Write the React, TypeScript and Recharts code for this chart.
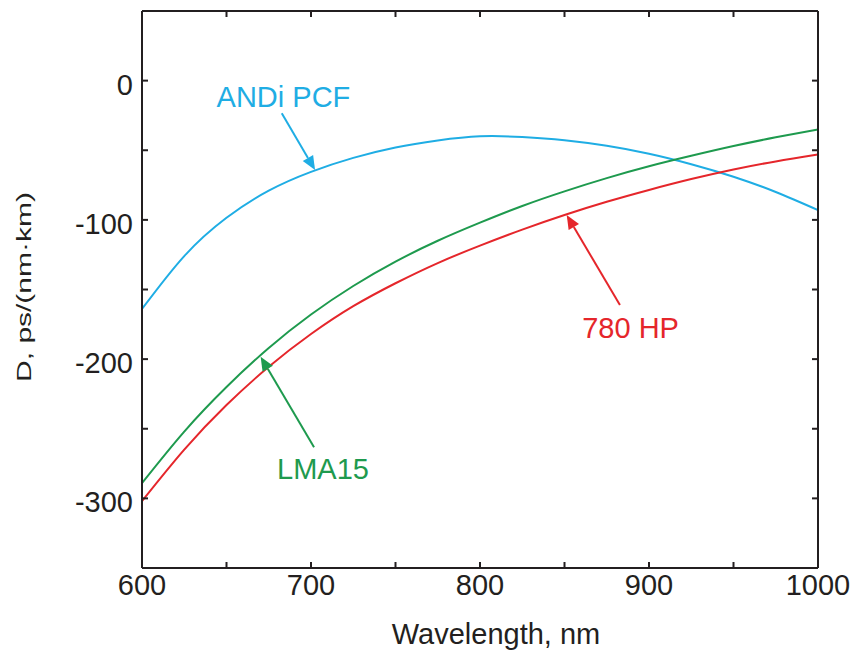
import { LineChart, Line, XAxis, YAxis, ReferenceLine, ReferenceDot } from "recharts";

// wavelength, nm
const wavelengths = [600, 625, 650, 675, 700, 725, 750, 775, 800, 825, 850, 875, 900, 925, 950, 975, 1000];

// dispersion D, ps/(nm·km)
const andiPcf = [-164, -126, -98.5, -79, -65.5, -55.5, -48, -43, -40, -40.5, -42.8, -46.8, -52.5, -60, -69, -80, -93];
const lma15 = [-289, -252, -220, -192, -168, -147.5, -130, -115, -102, -90, -79.5, -70, -61.5, -54, -47, -40.7, -35];
const hp780 = [-302, -265, -233, -205.5, -182, -162, -145.5, -131, -118.5, -107, -96.5, -87, -78.5, -70.7, -63.8, -58, -53];

const xTicks = [600, 650, 700, 750, 800, 850, 900, 950, 1000];
const yTicks = [-300, -250, -200, -150, -100, -50, 0];

const BLUE = "#1fade4";
const GREEN = "#1e9a4e";
const RED = "#e5262b";
const INK = "#231f20";
const FONT = "'Liberation Sans', Arial, Helvetica, sans-serif";

const data = wavelengths.map((w, i) => ({
  w,
  andi: andiPcf[i],
  lma: lma15[i],
  hp: hp780[i],
}));

// annotation text + arrow, in data units
const notes = [
  { text: "ANDi PCF", color: BLUE, at: [683.7, -18.6], from: [682.7, -23.5], to: [702.4, -64.2] },
  { text: "780 HP", color: RED, at: [889.1, -184.8], from: [882.8, -161.1], to: [851.3, -96.5] },
  { text: "LMA15", color: GREEN, at: [707.1, -286.1], from: [701.8, -263.3], to: [670.2, -198.3] },
];

const makeArrow = (color: string) => (props: any) => {
  const { x1, y1, x2, y2 } = props;
  const dx = x2 - x1;
  const dy = y2 - y1;
  const len = Math.hypot(dx, dy) || 1;
  const ux = dx / len;
  const uy = dy / len;
  const head = 14;
  const half = 6;
  const bx = x2 - ux * head;
  const by = y2 - uy * head;
  return (
    <g>
      <line x1={x1} y1={y1} x2={bx} y2={by} stroke={color} strokeWidth={2} />
      <polygon
        points={`${x2},${y2} ${bx - uy * half},${by + ux * half} ${bx + uy * half},${by - ux * half}`}
        fill={color}
      />
    </g>
  );
};

const makeNote = (text: string, color: string) => (props: any) => (
  <text x={props.cx} y={props.cy} textAnchor="middle" fill={color} fontSize={29} fontFamily={FONT}>
    {text}
  </text>
);

const XTick = (props: any) => {
  const { x, y, payload } = props;
  if (payload.value % 100 !== 0) return <g />;
  return (
    <text x={x} y={y + 19} textAnchor="middle" fill={INK} fontSize={29} fontFamily={FONT}>
      {payload.value}
    </text>
  );
};

const YTick = (props: any) => {
  const { x, y, payload } = props;
  if (payload.value % 100 !== 0) return <g />;
  return (
    <text x={x} y={y + 14} textAnchor="end" fill={INK} fontSize={29} fontFamily={FONT}>
      {payload.value}
    </text>
  );
};

const NoTick = () => <g />;

const XLabel = (props: any) => {
  const vb = props.viewBox || { x: 134, y: 560, width: 676 };
  return (
    <text x={vb.x + vb.width / 2 + 16} y={vb.y + 76} textAnchor="middle" fill={INK} fontSize={29} fontFamily={FONT}>
      Wavelength, nm
    </text>
  );
};

const YLabel = (props: any) => {
  const vb = props.viewBox || { x: 0, y: 3, height: 557 };
  const cx = vb.x + 23;
  const cy = vb.y + vb.height / 2 - 2.5;
  return (
    <text
      transform={`translate(${cx},${cy}) scale(0.7,1) rotate(-90)`}
      textAnchor="middle"
      fill={INK}
      fontSize={30}
      fontFamily={FONT}
    >
      D, ps/(nm·km)
    </text>
  );
};

const axisLine = { stroke: INK, strokeWidth: 2 };
const tickLine = { stroke: INK, strokeWidth: 2 };

export default function App() {
  return (
    <LineChart width={842} height={642} data={data} margin={{ top: 2, right: 31, bottom: 0, left: 0 }}>
      <XAxis
        dataKey="w"
        type="number"
        domain={[600, 1000]}
        allowDataOverflow
        ticks={xTicks}
        interval={0}
        height={82}
        tickSize={-6}
        tickMargin={14}
        axisLine={axisLine}
        tickLine={tickLine}
        tick={<XTick />}
        label={{ content: <XLabel /> }}
      />
      <XAxis
        xAxisId="top"
        orientation="top"
        dataKey="w"
        type="number"
        domain={[600, 1000]}
        allowDataOverflow
        ticks={xTicks}
        interval={0}
        height={1}
        tickSize={-6}
        axisLine={axisLine}
        tickLine={tickLine}
        tick={<NoTick />}
      />
      <YAxis
        type="number"
        domain={[-350, 50]}
        allowDataOverflow
        ticks={yTicks}
        interval={0}
        width={134}
        tickSize={-6}
        tickMargin={15}
        axisLine={axisLine}
        tickLine={tickLine}
        tick={<YTick />}
        label={{ content: <YLabel /> }}
      />
      <YAxis
        yAxisId="right"
        orientation="right"
        type="number"
        domain={[-350, 50]}
        allowDataOverflow
        ticks={yTicks}
        interval={0}
        width={1}
        tickSize={-6}
        axisLine={axisLine}
        tickLine={tickLine}
        tick={<NoTick />}
      />
      <Line dataKey="andi" type="natural" stroke={BLUE} strokeWidth={2} dot={false} isAnimationActive={false} />
      <Line dataKey="lma" type="natural" stroke={GREEN} strokeWidth={2} dot={false} isAnimationActive={false} />
      <Line dataKey="hp" type="natural" stroke={RED} strokeWidth={2} dot={false} isAnimationActive={false} />
      {notes.map((n) => (
        <ReferenceLine
          key={`arrow-${n.text}`}
          segment={[
            { x: n.from[0], y: n.from[1] },
            { x: n.to[0], y: n.to[1] },
          ]}
          shape={makeArrow(n.color)}
        />
      ))}
      {notes.map((n) => (
        <ReferenceDot key={`note-${n.text}`} x={n.at[0]} y={n.at[1]} r={0} shape={makeNote(n.text, n.color)} />
      ))}
    </LineChart>
  );
}
